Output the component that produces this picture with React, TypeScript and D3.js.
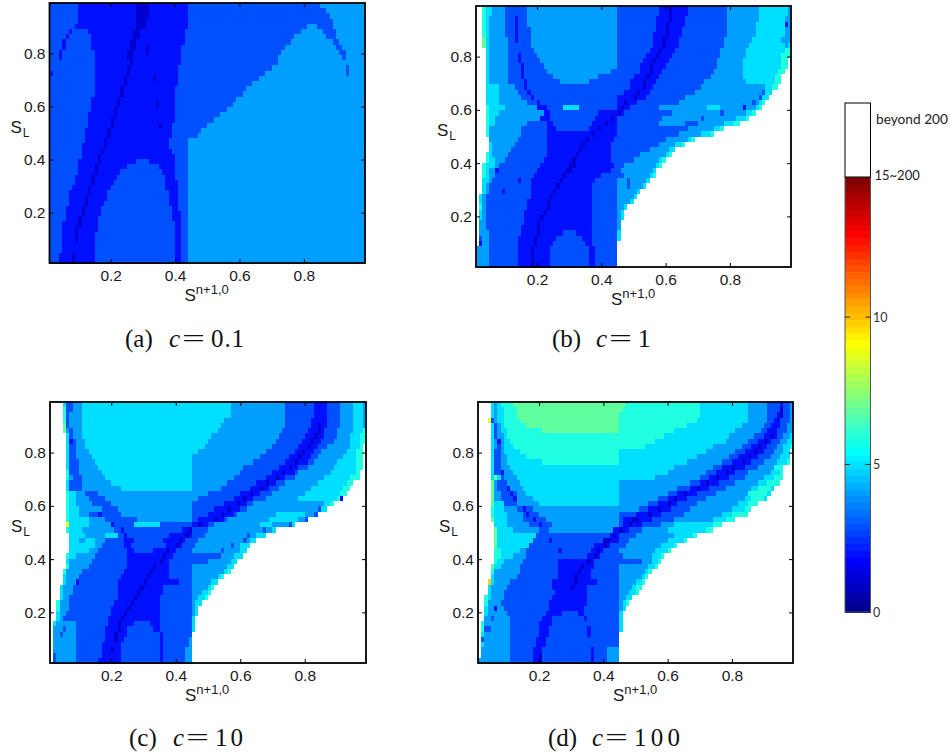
import React, { useEffect, useRef } from "react";
import * as d3 from "d3";

// each row runs top to bottom in S_L, "value:end" means value up to S = end/100, w = beyond 200
const panelARows = [
  "3:10 2:28 1:32 2:44 3:85 4:99",
  "3:10 2:28 1:32 2:44 3:87 4:99",
  "3:10 2:28 1:32 2:44 3:88 4:99",
  "3:10 2:28 1:31 2:44 3:89 4:99",
  "3:9 2:28 1:31 2:44 3:81 4:84 3:89 4:99",
  "3:7 2:8 3:13 2:27 1:29 2:43 3:79 4:86 3:90 4:99",
  "3:6 2:7 3:14 2:27 1:29 2:43 3:77 4:87 3:90 4:99",
  "3:5 2:6 3:14 2:26 1:28 2:43 3:76 4:89 3:91 4:99",
  "3:5 2:6 3:14 2:26 1:28 2:31 1:32 2:42 3:74 4:90 3:92 4:99",
  "3:4 2:5 3:15 2:25 1:27 2:31 1:32 2:42 3:73 4:91 3:93 4:99",
  "3:4 2:5 3:15 2:25 1:27 2:42 3:72 4:92 3:93 4:99",
  "3:15 2:26 1:27 2:42 3:72 4:99",
  "3:15 2:25 1:26 2:41 3:70 4:93 3:94 4:99",
  "3:1 2:2 3:15 2:25 1:26 2:41 3:68 4:93 3:94 4:99",
  "3:15 2:24 1:25 2:33 1:34 2:41 3:66 4:99",
  "3:15 2:24 1:25 2:41 3:64 4:99",
  "3:15 2:23 1:24 2:40 3:62 4:99",
  "3:15 2:23 1:24 2:40 3:61 4:99",
  "3:14 2:22 1:23 2:40 3:59 4:99",
  "3:14 2:22 1:23 2:34 1:35 2:40 3:58 4:99",
  "3:14 2:21 1:22 2:40 3:56 4:99",
  "3:13 2:21 1:22 2:40 3:54 4:99",
  "3:13 2:20 1:21 2:40 3:52 4:99",
  "3:13 2:20 1:21 2:35 1:36 2:39 3:50 4:99",
  "3:12 2:19 1:20 2:39 3:48 4:99",
  "3:12 2:19 1:20 2:39 3:47 4:99",
  "3:12 2:18 1:19 2:38 3:44 4:99",
  "3:11 2:18 1:19 2:38 3:44 4:99",
  "3:11 2:17 1:18 2:39 3:44 4:99",
  "3:11 2:16 1:17 2:40 3:44 4:99",
  "3:10 2:16 1:17 2:28 3:32 2:40 3:44 4:99",
  "3:10 2:15 1:16 2:25 3:35 2:40 3:44 4:99",
  "3:10 2:15 1:16 2:23 3:36 2:40 3:44 4:99",
  "3:9 2:14 1:15 2:22 3:37 2:40 3:44 4:99",
  "3:9 2:14 1:15 2:21 3:37 2:41 3:44 4:99",
  "3:8 2:13 1:14 2:20 3:37 2:41 3:44 4:99",
  "3:7 2:13 1:14 2:19 3:38 2:41 3:44 4:99",
  "3:7 2:12 1:13 2:19 3:38 2:41 3:44 4:99",
  "3:7 2:12 1:13 2:18 3:38 2:41 3:44 4:99",
  "3:6 2:11 1:12 2:17 3:39 2:41 3:44 4:99",
  "3:6 2:11 1:12 2:17 3:39 2:42 3:44 4:99",
  "3:6 2:10 1:11 2:16 3:39 2:42 3:44 4:99",
  "3:5 2:10 1:11 2:16 3:40 2:42 3:44 4:99",
  "3:5 2:9 1:10 2:16 3:40 2:42 3:44 4:99",
  "3:5 2:9 1:10 2:15 3:40 2:42 3:44 4:99",
  "3:5 2:9 1:10 2:15 3:40 2:42 3:44 4:99",
  "3:5 2:15 3:40 2:42 3:44 4:99",
  "3:5 2:15 3:40 2:42 3:44 4:99",
  "3:4 2:8 1:9 2:15 3:40 2:42 3:44 4:99",
  "3:4 2:8 1:9 2:15 3:40 2:42 3:44 4:99",
];

const panelBRows = [
  "w:3 6:4 5:6 4:10 3:17 4:45 3:58 2:61 1:62 2:67 3:79 4:89 5:98 4:99",
  "w:3 6:4 5:6 4:10 3:17 4:45 3:58 2:61 1:62 2:67 3:79 4:89 5:98 4:99",
  "w:3 6:4 5:5 4:10 3:13 2:14 3:17 4:45 3:57 2:61 1:62 2:66 3:79 4:89 5:97 4:99",
  "w:3 6:4 5:5 4:10 3:13 2:14 3:17 4:45 3:57 2:60 1:61 2:66 3:79 4:88 5:97 2:98 4:99",
  "w:3 6:4 5:5 4:10 3:13 2:14 3:18 4:45 3:57 2:60 1:61 2:65 3:79 4:88 5:97 4:99",
  "w:3 6:4 5:5 4:10 3:13 2:14 3:18 4:45 3:56 2:60 1:61 2:65 3:79 4:88 5:97 4:99",
  "w:3 7:4 5:5 4:11 3:13 2:14 3:18 4:45 3:56 2:59 1:60 2:64 3:78 4:87 5:96 4:99",
  "w:3 7:4 5:5 4:11 3:18 4:45 3:56 2:59 1:60 2:64 3:78 4:86 5:97 4:98 5:99",
  "w:4 5:5 4:11 3:19 4:45 3:55 2:58 1:59 2:63 3:77 4:85 5:97 6:99",
  "w:4 5:5 4:11 3:14 2:15 3:20 4:45 3:54 2:57 1:58 2:62 3:77 4:85 5:96 6:99",
  "w:4 5:5 4:11 3:14 2:15 3:21 4:45 3:53 2:56 1:57 2:61 3:76 4:84 5:96 6:98 w:99",
  "w:4 5:5 4:11 3:15 2:16 3:22 4:45 3:52 2:55 1:56 2:60 3:76 4:84 5:96 6:98 w:99",
  "w:4 5:5 4:11 3:15 2:16 3:23 4:43 3:52 2:55 1:56 2:59 3:75 4:84 5:95 6:97 w:99",
  "w:4 5:5 4:11 3:15 2:16 3:25 4:39 3:50 2:54 1:55 2:58 3:74 4:84 5:94 6:96 w:99",
  "w:4 5:5 4:11 3:16 2:17 3:27 4:36 3:49 2:53 1:54 2:57 3:72 4:85 5:94 6:96 w:99",
  "w:4 5:8 4:13 3:16 2:17 3:49 2:53 1:54 2:56 3:71 4:91 5:93 6:95 w:99",
  "w:4 5:8 4:14 3:17 2:18 3:47 2:51 1:52 2:55 3:69 4:90 3:91 5:93 w:99",
  "w:4 5:8 4:15 3:18 2:19 3:45 2:50 1:51 2:54 3:66 4:89 3:90 5:92 w:99",
  "w:4 5:8 4:17 3:20 2:21 3:45 2:47 1:48 2:51 3:64 4:87 3:88 4:89 5:90 6:91 w:99",
  "w:4 6:5 5:10 4:20 2:23 3:28 5:33 3:45 2:46 1:47 2:49 3:58 4:73 5:77 4:84 2:85 4:88 5:89 6:90 w:99",
  "w:4 6:5 5:8 4:22 2:24 3:39 2:45 1:46 2:47 3:62 4:77 3:78 4:85 5:87 6:88 w:99",
  "w:4 6:5 5:7 4:21 2:24 3:38 2:43 1:44 2:45 3:59 4:71 3:72 4:82 5:85 6:86 w:99",
  "w:4 6:5 5:7 4:17 3:23 2:25 3:37 2:41 1:42 2:45 3:58 4:66 3:70 4:78 5:81 6:83 w:99",
  "w:4 6:5 4:15 3:23 2:26 3:36 2:39 1:40 2:45 3:67 4:75 5:77 6:78 w:99",
  "w:4 6:5 4:15 3:23 2:37 1:38 2:45 3:64 4:71 5:74 6:75 w:99",
  "w:5 4:14 3:23 2:35 1:36 2:44 3:60 4:67 5:68 6:69 w:99",
  "w:5 5:6 4:13 3:23 2:34 1:35 2:43 3:58 4:63 5:65 6:66 w:99",
  "w:5 5:6 4:12 3:23 2:33 1:34 2:43 3:55 4:61 5:63 w:99",
  "w:4 6:5 5:6 4:11 3:23 2:32 1:33 2:43 3:52 4:60 5:61 6:62 w:99",
  "w:4 6:5 5:7 4:10 3:22 2:31 1:32 2:43 3:50 4:58 5:59 6:60 w:99",
  "w:3 6:4 5:7 4:8 3:21 2:30 1:32 2:44 3:47 4:57 5:58 6:59 w:99",
  "w:3 6:4 5:5 4:7 2:8 3:20 2:29 1:31 2:43 3:46 4:56 5:57 w:99",
  "w:3 6:4 5:5 4:7 3:19 2:28 1:29 2:40 3:47 4:55 5:56 6:57 w:99",
  "w:3 5:5 4:6 3:14 2:15 3:18 2:27 1:28 2:38 3:45 4:48 3:49 4:54 5:55 w:99",
  "w:3 5:4 4:5 3:18 2:26 1:27 2:37 3:45 4:48 3:49 4:53 5:54 w:99",
  "w:3 5:4 4:5 3:9 2:10 3:18 2:25 1:26 2:37 3:45 4:51 5:52 w:99",
  "w:2 5:3 4:4 3:18 2:24 1:25 2:37 3:45 4:50 5:51 w:99",
  "w:2 5:3 4:4 3:17 2:23 1:24 2:37 3:45 4:49 5:50 w:99",
  "w:2 6:3 4:4 3:17 2:23 1:24 2:37 3:45 4:47 5:48 w:99",
  "w:2 5:3 4:4 3:16 2:22 1:23 2:37 3:45 4:46 5:47 w:99",
  "w:2 5:3 4:4 3:16 2:21 1:22 2:37 3:45 4:46 5:47 w:99",
  "w:2 4:4 3:16 2:20 1:21 2:37 3:45 4:46 w:99",
  "w:2 4:4 3:15 2:20 1:21 2:37 3:45 4:46 w:99",
  "w:2 4:5 3:15 2:20 1:21 2:28 3:32 2:37 3:45 5:46 w:99",
  "w:2 3:3 4:5 3:14 2:19 1:20 2:26 3:34 2:37 3:45 5:46 w:99",
  "w:2 2:3 4:5 3:14 2:19 1:20 2:25 3:35 2:37 3:45 w:99",
  "4:5 3:14 2:18 1:19 2:24 3:36 2:38 3:45 w:99",
  "4:5 3:14 2:18 1:19 2:24 3:36 2:38 3:45 w:99",
  "4:5 3:14 2:18 1:19 2:24 3:36 2:38 3:45 w:99",
  "4:5 3:14 2:18 1:19 2:24 3:36 2:38 3:45 w:99",
];

const panelCRows = [
  "w:5 5:6 3:8 4:11 5:57 4:74 3:83 2:87 3:91 4:95 5:98 4:99",
  "w:5 6:6 3:8 4:11 5:57 4:74 3:83 2:87 3:91 4:95 5:98 4:99",
  "w:5 6:6 3:7 4:11 5:57 4:74 3:83 2:87 3:91 4:95 5:98 4:99",
  "w:5 6:6 3:7 4:11 5:55 4:74 3:82 2:87 3:91 4:95 5:98 4:99",
  "w:5 7:6 3:7 4:11 5:54 4:74 3:82 2:84 1:85 2:87 3:91 4:95 5:98 4:99",
  "w:5 7:6 4:7 3:8 4:11 5:53 4:73 3:81 2:84 1:85 2:86 3:90 4:95 5:98 6:99",
  "w:6 5:7 3:8 4:11 5:51 4:72 3:80 2:83 1:84 2:86 3:90 4:94 5:97 6:99",
  "w:6 5:7 2:8 3:9 4:12 5:50 4:71 3:79 2:82 1:83 2:85 3:89 4:94 5:97 6:99",
  "w:6 5:7 3:9 4:12 5:49 4:70 3:78 2:81 1:82 2:84 3:87 4:94 5:97 6:98 w:99",
  "w:6 5:7 3:9 4:13 5:47 4:68 3:77 2:79 1:80 2:83 3:85 4:93 5:96 6:98 w:99",
  "w:6 5:7 3:9 4:14 5:45 4:66 3:75 2:78 1:79 2:82 3:84 4:92 5:96 6:98 w:99",
  "w:6 5:7 3:10 4:15 5:45 4:64 3:74 2:77 1:78 2:81 3:83 4:90 5:96 6:98 w:99",
  "w:6 5:7 3:10 4:16 5:45 4:61 3:72 2:75 1:76 2:78 3:81 4:89 5:96 6:98 w:99",
  "w:6 6:7 3:10 4:17 5:45 4:60 3:70 2:73 1:74 2:77 3:78 4:88 5:96 6:97 w:99",
  "w:6 6:7 4:8 3:11 4:18 5:45 4:58 3:68 2:71 1:72 2:74 3:77 4:86 5:94 6:97 w:99",
  "w:6 5:7 3:11 4:20 5:45 4:56 3:65 2:68 1:69 2:71 3:74 4:84 5:93 6:95 w:99",
  "w:6 5:7 3:11 4:23 5:45 4:54 3:63 2:66 1:67 2:69 3:72 4:82 5:92 6:94 w:99",
  "w:6 6:7 5:9 4:12 3:16 4:50 3:60 2:63 1:64 2:66 3:70 4:80 5:91 6:93 w:99",
  "w:6 6:7 5:9 4:13 3:18 4:47 3:58 2:61 1:62 2:64 3:68 4:78 5:90 6:91 2:92 w:99",
  "w:6 6:7 5:9 4:14 3:20 4:45 3:55 2:59 1:60 2:62 3:64 4:86 5:88 6:89 w:99",
  "w:6 6:7 5:10 4:17 3:22 4:45 3:52 2:56 1:57 2:60 3:62 4:84 3:85 5:87 w:99",
  "w:6 6:7 5:10 4:13 3:16 2:17 3:23 4:45 3:50 2:54 1:55 2:58 3:59 4:71 5:80 4:83 3:84 w:99",
  "w:6 6:7 5:13 4:18 3:28 4:45 3:47 2:52 1:53 2:55 3:56 4:69 5:78 4:80 3:81 w:99",
  "w:6 9:7 5:13 4:20 2:21 3:27 5:35 3:45 2:47 1:48 2:50 3:52 4:66 5:70 4:75 3:76 5:77 w:99",
  "w:6 6:7 5:11 4:21 3:23 2:24 3:42 2:44 1:45 3:50 4:67 3:68 4:70 5:71 w:99",
  "w:7 5:12 4:18 5:22 3:24 2:25 3:38 2:43 1:44 2:45 3:49 4:62 3:63 4:65 5:68 w:99",
  "w:7 5:10 4:12 5:15 4:18 3:24 2:27 3:36 2:41 1:42 2:43 3:47 4:61 3:62 4:63 5:65 w:99",
  "w:7 5:15 4:17 3:24 2:26 3:37 2:40 1:41 2:42 3:46 4:57 3:58 4:60 5:63 w:99",
  "w:7 5:13 4:16 3:25 2:27 3:33 2:37 1:38 2:40 3:45 4:54 3:55 4:60 5:62 w:99",
  "w:6 6:7 5:9 4:15 3:25 2:36 1:37 2:39 3:54 4:58 5:61 w:99",
  "w:6 5:7 4:14 3:25 2:35 1:36 2:38 3:50 4:57 5:59 w:99",
  "w:6 6:7 4:13 3:25 2:33 1:34 2:38 3:45 4:56 5:58 w:99",
  "w:5 6:6 4:11 3:24 2:32 1:33 2:38 3:45 4:55 5:56 6:57 w:99",
  "w:5 5:6 4:10 3:23 2:31 1:32 2:38 3:45 4:53 5:54 6:55 w:99",
  "w:5 5:6 4:9 2:10 3:22 2:30 1:31 2:41 3:45 4:51 5:53 w:99",
  "w:4 5:5 4:8 3:22 2:29 1:30 2:36 3:45 4:50 5:51 6:52 w:99",
  "w:4 5:5 4:8 3:22 2:28 1:29 2:36 3:45 4:48 5:50 6:51 w:99",
  "w:4 5:5 4:7 3:22 2:27 1:28 2:35 3:45 4:47 5:49 6:50 w:99",
  "w:3 6:4 4:7 3:21 2:26 1:27 2:35 3:45 4:46 5:48 w:99",
  "w:3 6:4 4:7 3:20 2:25 1:26 2:35 3:45 4:46 5:47 w:99",
  "w:3 5:4 4:6 3:20 2:24 1:25 2:35 3:45 4:46 5:47 w:99",
  "w:3 5:4 4:5 3:19 2:23 1:24 2:35 3:45 5:46 w:99",
  "w:2 5:3 4:9 3:19 2:22 1:23 2:27 3:32 2:35 3:45 5:46 w:99",
  "w:2 4:5 3:6 4:9 3:18 2:22 1:23 2:25 3:33 2:35 3:45 5:46 w:99",
  "w:2 4:4 3:5 4:9 3:18 2:21 1:22 2:25 3:35 2:36 3:45 w:99",
  "w:2 4:9 3:18 2:21 1:22 2:24 3:35 2:36 3:44 4:45 w:99",
  "w:2 4:9 3:17 2:23 3:35 2:36 3:44 4:45 w:99",
  "w:2 4:9 3:17 2:20 1:21 2:23 3:35 2:36 3:43 4:45 w:99",
  "w:2 3:3 4:9 3:17 2:23 3:35 2:36 3:43 4:45 w:99",
  "w:2 3:3 4:9 3:16 2:23 3:35 2:36 3:43 4:45 w:99",
];

const panelDRows = [
  "w:5 5:6 4:7 5:8 6:12 7:47 6:70 5:85 4:91 3:95 2:96 3:98 4:99",
  "w:5 5:6 4:7 5:9 6:13 7:46 6:70 5:85 4:91 3:95 1:96 3:98 4:99",
  "w:5 5:6 4:7 5:9 6:13 7:45 6:70 5:85 4:91 3:94 2:95 1:96 3:98 4:99",
  "w:4 9:5 3:6 4:7 5:9 6:14 7:45 6:69 5:85 4:91 3:93 2:95 3:98 4:99",
  "w:5 5:6 3:7 4:8 5:9 6:16 7:45 6:66 5:83 4:90 3:92 2:95 3:97 4:99",
  "w:5 5:6 3:7 4:8 5:10 6:21 7:45 6:62 5:81 4:89 3:91 2:94 3:97 4:99",
  "w:5 5:6 3:7 4:9 5:10 6:59 5:79 4:87 3:90 2:92 1:93 2:94 3:96 4:98 5:99",
  "w:5 5:6 4:7 2:8 4:9 5:11 6:56 5:78 4:85 3:88 2:90 1:91 2:92 3:95 4:97 5:99",
  "w:5 5:6 4:7 3:8 4:9 5:12 6:53 5:74 4:83 3:86 2:88 1:89 2:91 3:94 4:96 5:98 6:99",
  "w:5 5:6 3:8 4:9 5:14 6:45 5:72 4:81 3:84 2:87 1:88 2:90 3:93 4:96 5:98 w:99",
  "w:5 5:6 3:8 4:10 5:16 6:45 5:69 4:79 3:82 2:85 1:86 2:88 3:92 4:95 5:98 w:99",
  "w:5 5:6 3:8 4:10 5:21 6:45 5:66 4:77 3:80 2:83 1:84 2:86 3:90 4:94 5:97 6:98 w:99",
  "w:5 5:6 3:8 4:11 5:62 4:74 3:77 2:80 1:81 2:84 3:88 4:93 6:96 w:99",
  "w:5 5:6 3:8 2:9 4:12 5:60 4:72 3:75 2:78 1:79 2:81 3:85 4:92 5:95 6:96 w:99",
  "w:5 5:6 7:7 5:8 3:9 4:13 5:56 4:70 3:73 2:75 1:76 2:79 3:84 4:90 5:93 6:96 w:99",
  "w:5 7:6 4:7 3:10 4:14 5:45 4:67 3:70 2:72 1:73 2:76 3:81 4:88 5:91 6:95 w:99",
  "w:5 7:6 4:7 3:10 2:11 4:15 5:45 4:63 3:67 2:69 1:70 2:73 3:78 4:86 5:88 6:92 5:93 w:99",
  "w:5 7:6 4:8 3:11 2:12 3:13 4:16 5:45 4:60 3:63 2:65 1:66 2:69 3:75 4:85 6:91 5:92 w:99",
  "w:5 7:6 4:8 3:12 2:13 4:18 5:45 4:57 3:60 2:62 1:63 2:66 3:72 4:84 5:86 6:90 5:91 w:99",
  "w:5 7:6 5:9 3:13 4:20 5:45 4:54 3:57 2:60 1:61 2:63 3:69 4:82 5:85 6:88 w:99",
  "w:5 6:6 5:9 4:13 3:15 2:16 3:18 4:51 3:54 2:57 1:58 2:61 3:67 4:80 5:84 6:86 w:99",
  "w:5 6:6 5:10 4:15 3:16 2:17 3:20 4:45 3:50 2:54 1:55 2:58 3:65 4:77 5:80 6:85 w:99",
  "w:5 7:6 5:10 4:15 3:18 2:19 3:22 4:45 3:46 2:49 1:51 2:55 3:62 4:74 5:78 6:81 w:99",
  "w:6 5:10 4:17 3:20 2:21 3:24 4:45 3:46 2:48 1:49 2:52 3:58 4:62 5:74 6:77 w:99",
  "w:6 7:7 5:12 4:20 3:23 4:43 2:45 1:46 2:48 3:52 4:60 5:72 6:74 w:99",
  "w:6 7:7 5:19 3:42 2:43 1:44 2:45 3:50 4:62 5:68 6:69 w:99",
  "w:6 7:7 5:18 3:23 2:24 3:40 1:42 2:45 3:48 4:60 5:65 6:66 w:99",
  "w:6 7:7 5:17 3:37 2:40 1:41 2:42 3:47 4:58 5:62 6:63 w:99",
  "w:6 6:8 5:14 4:16 3:26 2:27 3:36 2:38 1:39 2:40 3:45 4:56 5:60 6:61 w:99",
  "w:6 6:8 5:12 4:16 3:35 2:37 1:38 2:39 3:46 4:55 5:58 6:59 w:99",
  "w:6 6:7 5:9 4:15 3:26 2:35 1:36 2:37 3:52 4:55 5:57 6:58 w:99",
  "w:5 7:6 5:8 4:14 3:26 2:33 1:34 2:37 3:45 4:54 5:56 6:57 w:99",
  "w:5 6:6 4:14 3:26 2:32 1:33 2:36 3:45 4:53 5:54 6:55 w:99",
  "w:5 5:6 4:13 3:26 2:31 1:32 2:36 3:45 4:52 5:53 6:54 w:99",
  "w:4 10:5 5:6 4:11 3:24 2:31 1:32 2:38 3:45 4:50 5:52 6:53 w:99",
  "w:4 5:5 4:10 3:24 2:30 1:31 2:35 3:45 4:49 5:50 6:52 w:99",
  "w:4 5:5 4:9 3:25 2:35 3:45 4:48 5:50 6:51 w:99",
  "w:3 6:4 5:5 4:9 3:24 2:35 3:45 4:47 5:49 w:99",
  "w:3 6:4 4:8 3:23 2:35 3:45 4:46 5:47 6:48 w:99",
  "w:3 5:4 4:6 2:7 4:9 3:23 2:34 3:45 4:46 5:47 w:99",
  "w:3 5:4 4:10 3:22 2:27 3:32 2:34 3:45 5:46 w:99",
  "w:3 4:5 3:6 4:11 3:21 2:24 3:34 2:35 3:45 5:46 w:99",
  "w:2 6:3 4:11 3:20 2:24 3:45 5:46 w:99",
  "w:2 6:3 3:5 4:11 3:20 2:23 3:35 2:36 3:45 5:46 w:99",
  "w:2 5:3 4:11 3:20 2:23 3:35 2:36 3:45 w:99",
  "w:2 3:3 4:11 3:19 2:22 3:45 w:99",
  "w:2 5:3 4:11 3:19 2:22 3:45 w:99",
  "w:2 4:11 3:18 2:21 3:36 2:37 3:41 4:45 w:99",
  "w:2 4:11 3:18 2:20 1:21 3:36 2:37 3:41 4:45 w:99",
  "w:1 4:11 3:18 2:20 1:21 3:36 2:37 3:41 4:45 w:99",
];

const axisTicks = [0.2, 0.4, 0.6, 0.8];
const barTicks = [5, 10];
const barLabels = ["0", "5", "10"];
const barValues = [0, 5, 10];

const font = "'Liberation Sans', Arial, sans-serif";
const barFont = "Lato, sans-serif";
const serif = "'Liberation Serif', serif";

// matlab jet with 64 levels over 0..15
const jet = d3
  .scaleLinear<string>()
  .domain([0, 8, 24, 40, 56, 64])
  .range(["#000080", "#0000ff", "#00ffff", "#ffff00", "#ff0000", "#800000"]);
const levelColor = (v: number) => jet(1 + Math.floor((v * 64) / 15));

function parseRow(row: string) {
  let start = 1;
  return row.split(" ").map((run) => {
    const [v, end] = run.split(":");
    const cell = { v, start, end: +end };
    start = +end;
    return cell;
  });
}

const Panel = ({ rows, box, letter, value, capX, capY, valueWidth }: any) => {
  const axisRef = useRef<SVGGElement>(null);
  const [x0, x1, y0, y1] = box;
  const xCol = d3.scaleLinear().domain([1, 99]).range([x0, x1]);
  const xScale = d3.scaleLinear().domain([0.01, 0.99]).range([x0, x1]);
  const yScale = d3.scaleLinear().domain([0.01, 0.99]).range([y1, y0]);
  const yRow = d3
    .scaleBand<number>()
    .domain(d3.range(rows.length))
    .range([y0, y1]);

  useEffect(() => {
    const g = d3.select(axisRef.current);
    g.selectAll("*").remove();
    const fmt = d3.format(".1f");
    g.append("g")
      .attr("transform", `translate(0,${y1})`)
      .call(d3.axisBottom(xScale).tickValues(axisTicks).tickFormat(fmt as any).tickSize(-4).tickPadding(7));
    g.append("g")
      .attr("transform", `translate(0,${y0})`)
      .call(d3.axisTop(xScale).tickValues(axisTicks).tickFormat(() => "").tickSize(-4));
    g.append("g")
      .attr("transform", `translate(${x0},0)`)
      .call(d3.axisLeft(yScale).tickValues(axisTicks).tickFormat(fmt as any).tickSize(-4).tickPadding(4));
    g.append("g")
      .attr("transform", `translate(${x1},0)`)
      .call(d3.axisRight(yScale).tickValues(axisTicks).tickFormat(() => "").tickSize(-4));
    g.selectAll(".domain").attr("stroke", "none");
    g.selectAll(".tick line").attr("stroke", "#000").attr("stroke-width", 1);
    g.selectAll("text").attr("fill", "#1a1a1a").attr("font-size", 15.5).attr("font-family", font);
  }, []);

  return (
    <g>
      <g shapeRendering="crispEdges">
        {rows.map((row: string, i: number) =>
          parseRow(row).map((c, j) => (
            <rect
              key={`${i}-${j}`}
              x={xCol(c.start)}
              y={yRow(i)}
              width={Math.max(0, xCol(c.end) - xCol(c.start))}
              height={yRow.bandwidth() + 0.5}
              fill={c.v === "w" ? "#fff" : levelColor(+c.v)}
            />
          ))
        )}
      </g>
      <rect x={x0} y={y0} width={x1 - x0} height={y1 - y0} fill="none" stroke="#000" strokeWidth={1.8} />
      <g ref={axisRef} />
      <text x={x0 + 135} y={y1 + 38} fontFamily={font} fontSize={17} fill="#1a1a1a">
        S
        <tspan dy={-7} fontSize={13}>n+1,0</tspan>
      </text>
      <text x={x0 - 39} y={y0 + 130} fontFamily={font} fontSize={17} fill="#1a1a1a">
        S
        <tspan dy={4} dx={1} fontSize={12}>L</tspan>
      </text>
      <g fontFamily={serif} fontSize={25} fill="#111">
        <text x={capX} y={capY}>{letter}</text>
        <text x={capX + 44} y={capY} fontStyle="italic">c</text>
        <text x={capX + 57} y={capY} textLength={23} lengthAdjust="spacingAndGlyphs">=</text>
        <text x={capX + 86} y={capY} textLength={valueWidth} lengthAdjust="spacing">{value}</text>
      </g>
    </g>
  );
};

const ColorBar = () => {
  const x0 = 845;
  const x1 = 870.5;
  const yBar = d3.scaleLinear().domain([0, 14.75]).range([612, 177]);
  const bands = d3
    .scaleBand<number>()
    .domain(d3.range(64, 0, -1))
    .range([177, 612]);
  return (
    <g>
      <g shapeRendering="crispEdges">
        {bands.domain().map((k) => (
          <rect key={k} x={x0} y={bands(k)} width={x1 - x0} height={bands.bandwidth() + 0.5} fill={jet(k)} />
        ))}
      </g>
      <rect x={x0} y={177} width={x1 - x0} height={435} fill="none" stroke="#555" strokeWidth={1} />
      <rect x={x0} y={103} width={x1 - x0} height={74} fill="#fff" stroke="#000" strokeWidth={1} />
      {barTicks.map((t) => (
        <g key={t} stroke="#222" strokeWidth={1}>
          <line x1={x0} x2={x0 + 5} y1={yBar(t)} y2={yBar(t)} />
          <line x1={x1 - 5} x2={x1} y1={yBar(t)} y2={yBar(t)} />
        </g>
      ))}
      {barValues.map((v, i) => (
        <text key={v} x={873} y={yBar(v) + 4.5} fontFamily={barFont} fontSize={12.5} fill="#333">
          {barLabels[i]}
        </text>
      ))}
      <text x={876} y={124} fontFamily={barFont} fontSize={13.7} fill="#222">beyond 200</text>
      <text x={874.5} y={180} fontFamily={barFont} fontSize={13} fill="#222">15~200</text>
    </g>
  );
};

export default function App() {
  return (
    <svg
      width={950}
      height={752}
      style={{ position: "absolute", left: 0, top: 0, background: "#fff" }}
    >
      <Panel rows={panelARows} box={[49.5, 365, 3, 263]} letter="(a)" value="0.1" capX={125} capY={347} valueWidth={33} />
      <Panel rows={panelBRows} box={[476, 791, 6, 267]} letter="(b)" value="1" capX={552} capY={347} valueWidth={13} />
      <Panel rows={panelCRows} box={[50, 366, 402, 663]} letter="(c)" value="10" capX={129} capY={746} valueWidth={28} />
      <Panel rows={panelDRows} box={[478, 793, 402, 663]} letter="(d)" value="100" capX={548} capY={746} valueWidth={46} />
      <ColorBar />
    </svg>
  );
}
